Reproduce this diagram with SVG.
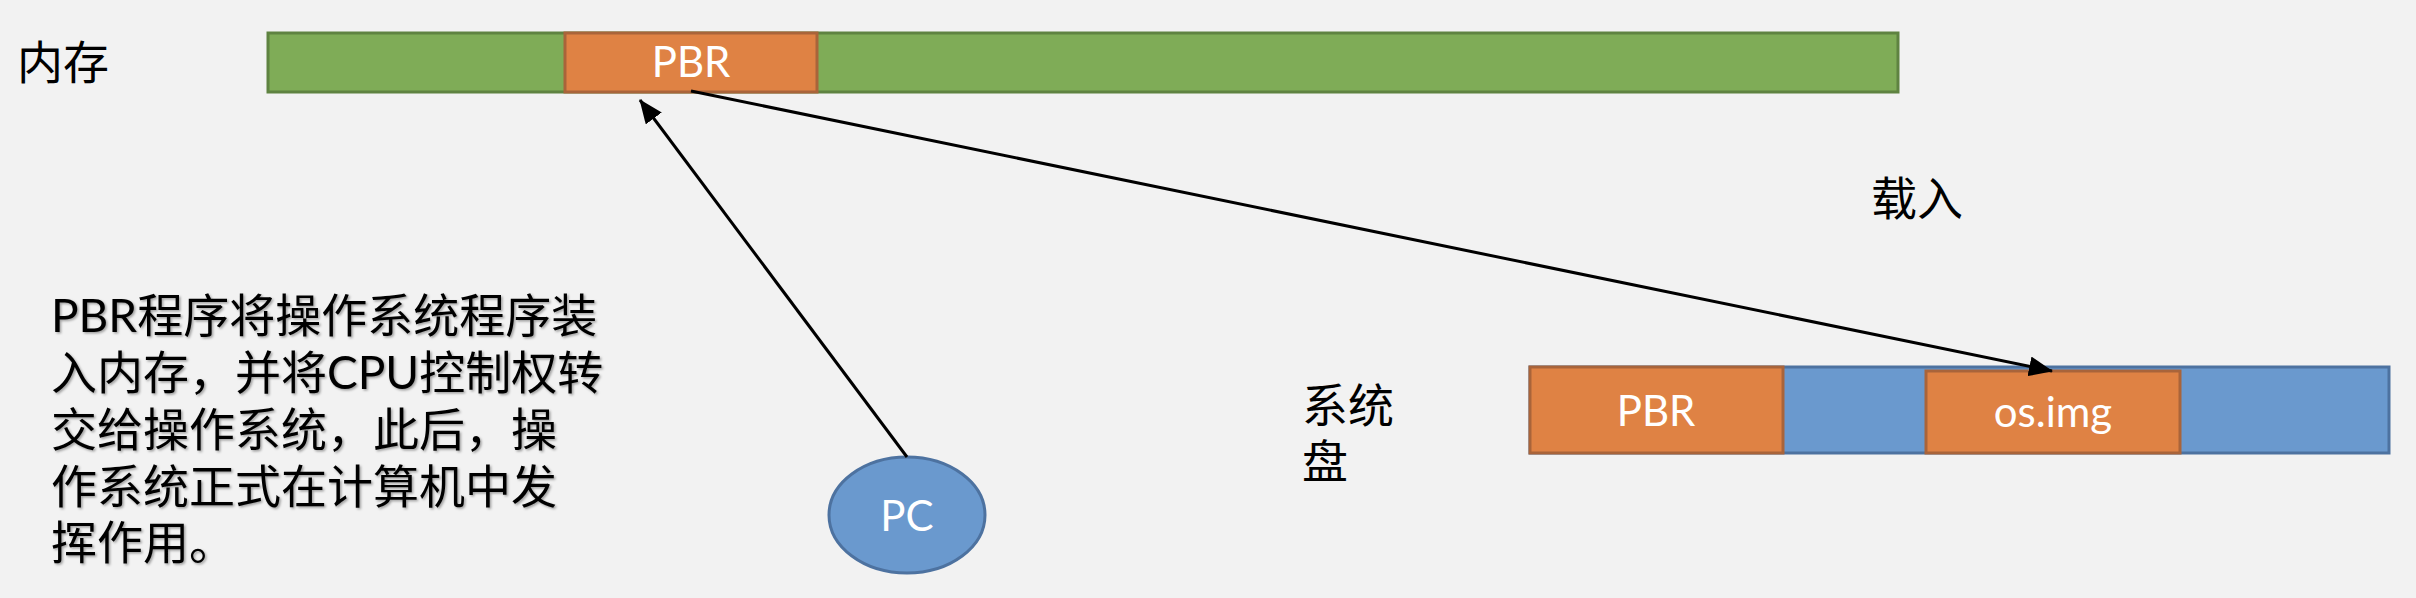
<svg xmlns="http://www.w3.org/2000/svg" width="2416" height="598" viewBox="0 0 2416 598">
<style>
.lbl{font-family:"Noto Sans CJK SC","Noto Sans CJK JP",sans-serif;font-size:46px;fill:#000}
.para{font-family:"Lato","Noto Sans CJK SC",sans-serif;font-size:46px;fill:#000}
.wt{font-family:"Lato","Open Sans",sans-serif;font-size:42px;fill:#fff;text-anchor:middle}
.green{fill:#7FAC57;stroke:#5F8341;stroke-width:3}
.orange{fill:#DF8244;stroke:#A9643A;stroke-width:3}
.blue{fill:#6A99CE;stroke:#4D72A0;stroke-width:3}
.conn{stroke:#000;stroke-width:3;fill:none}
</style>
<defs>
<marker id="ah" markerUnits="userSpaceOnUse" markerWidth="24" markerHeight="20" viewBox="0 0 24 20" refX="23" refY="10" orient="auto">
<path d="M0,0 L24,10 L0,20 Z" fill="#000"/>
</marker>
<filter id="sh" x="-5%" y="-5%" width="110%" height="110%">
<feDropShadow dx="1.5" dy="1.5" stdDeviation="1" flood-color="#000" flood-opacity="0.35"/>
</filter>
</defs>
<rect x="0" y="0" width="2416" height="598" fill="#F2F2F2"/>
<g id="memory-label"><text class="lbl" x="17" y="79">内存</text></g>
<g id="memory">
<rect class="green" x="268" y="33" width="1630" height="59"/>
</g>
<g id="memory-pbr">
<rect class="orange" x="565" y="33" width="252" height="59"/>
<text class="wt" x="691" y="77">PBR</text>
</g>
<g id="disk-label"><text class="lbl" x="1302" y="422">系统</text><text class="lbl" x="1302" y="478">盘</text></g>
<g id="disk">
<rect class="blue" x="1530" y="367" width="859" height="86"/>
</g>
<g id="disk-pbr">
<rect class="orange" x="1530" y="367" width="253" height="86"/>
<text class="wt" x="1656" y="426">PBR</text>
</g>
<g id="os-img">
<rect class="orange" x="1926" y="371" width="254" height="82"/>
<text class="wt" x="2053" y="427">os.img</text>
</g>
<g id="load-label"><text class="lbl" x="1871" y="215">载入</text></g>
<g id="pc">
<ellipse cx="907" cy="515" rx="78" ry="58" fill="#6A99CE" stroke="#4D72A0" stroke-width="3"/>
<text class="wt" x="907" y="531">PC</text>
</g>
<g id="description" filter="url(#sh)">
<text class="para" x="51" y="332">PBR程序将操作系统程序装</text>
<text class="para" x="51" y="389">入内存，并将CPU控制权转</text>
<text class="para" x="51" y="446">交给操作系统，此后，操</text>
<text class="para" x="51" y="503">作系统正式在计算机中发</text>
<text class="para" x="51" y="559">挥作用。</text>
</g>
<g id="connectors">
<line class="conn" x1="907" y1="457" x2="640" y2="100" marker-end="url(#ah)"/>
<line class="conn" x1="691" y1="91" x2="2052" y2="371" marker-end="url(#ah)"/>
</g>
</svg>
